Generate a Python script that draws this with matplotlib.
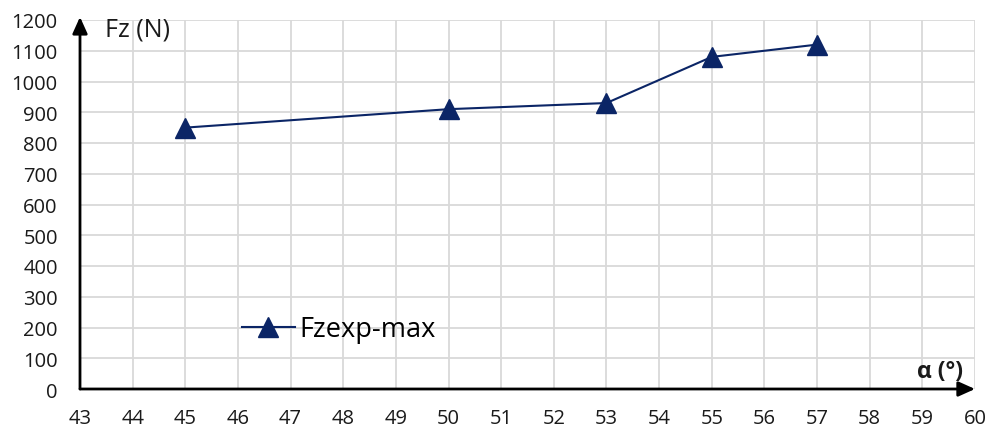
import matplotlib
matplotlib.use("Agg")
import matplotlib.pyplot as plt

alpha = [45, 50, 53, 55, 57]
fz = [850, 910, 930, 1080, 1120]
x_ticks = list(range(43, 61))
y_ticks = list(range(0, 1201, 100))
series_label = "Fzexp-max"

plt.rcParams['font.family'] = ['Open Sans', 'DejaVu Sans']

fig = plt.figure(figsize=(9.9, 4.31), dpi=100)
ax = fig.add_axes([80/990, 1-390/431, (975-80)/990, (390-21)/431])

color = '#0b2566'
ax.plot(alpha, fz, color=color, lw=1.5, marker='^', markersize=14,
        markerfacecolor=color, markeredgecolor=color, label=series_label, clip_on=False, zorder=5)

ax.set_xlim(43, 60)
ax.set_ylim(0, 1200)
ax.set_xticks(x_ticks)
ax.set_yticks(y_ticks)
ax.tick_params(axis='both', length=0, labelsize=14.5, colors='#1a1a1a')
ax.tick_params(axis='x', pad=14)
ax.tick_params(axis='y', pad=16)
ax.grid(True, color='#d9d9d9', lw=1.3)
ax.set_axisbelow(True)
for s in ax.spines.values():
    s.set_visible(False)

# axes arrows
ax.annotate('', xy=(60, 0), xytext=(43, 0), xycoords='data',
            arrowprops=dict(arrowstyle='-|>,head_length=1.0,head_width=0.45', color='black', lw=2, shrinkA=0, shrinkB=0),
            annotation_clip=False)
ax.annotate('', xy=(43, 1210), xytext=(43, 0), xycoords='data',
            arrowprops=dict(arrowstyle='-|>,head_length=1.0,head_width=0.45', color='black', lw=2, shrinkA=0, shrinkB=0),
            annotation_clip=False)

fig.text(105/990, 1-30/431, 'Fz (N)', fontsize=18, va='center', ha='left', color='#1a1a1a')
fig.text(963/990, 1-372/431, 'α (°)', fontsize=16.5, fontweight='bold', va='center', ha='right', color='#1a1a1a')

leg = ax.legend(loc='center left', bbox_to_anchor=((242-80)/895, (390-330)/369),
                frameon=False, fontsize=19.5, handlelength=1.95, handletextpad=0.15,
                borderpad=0, borderaxespad=0)

fig.savefig('out.png', dpi=100)
